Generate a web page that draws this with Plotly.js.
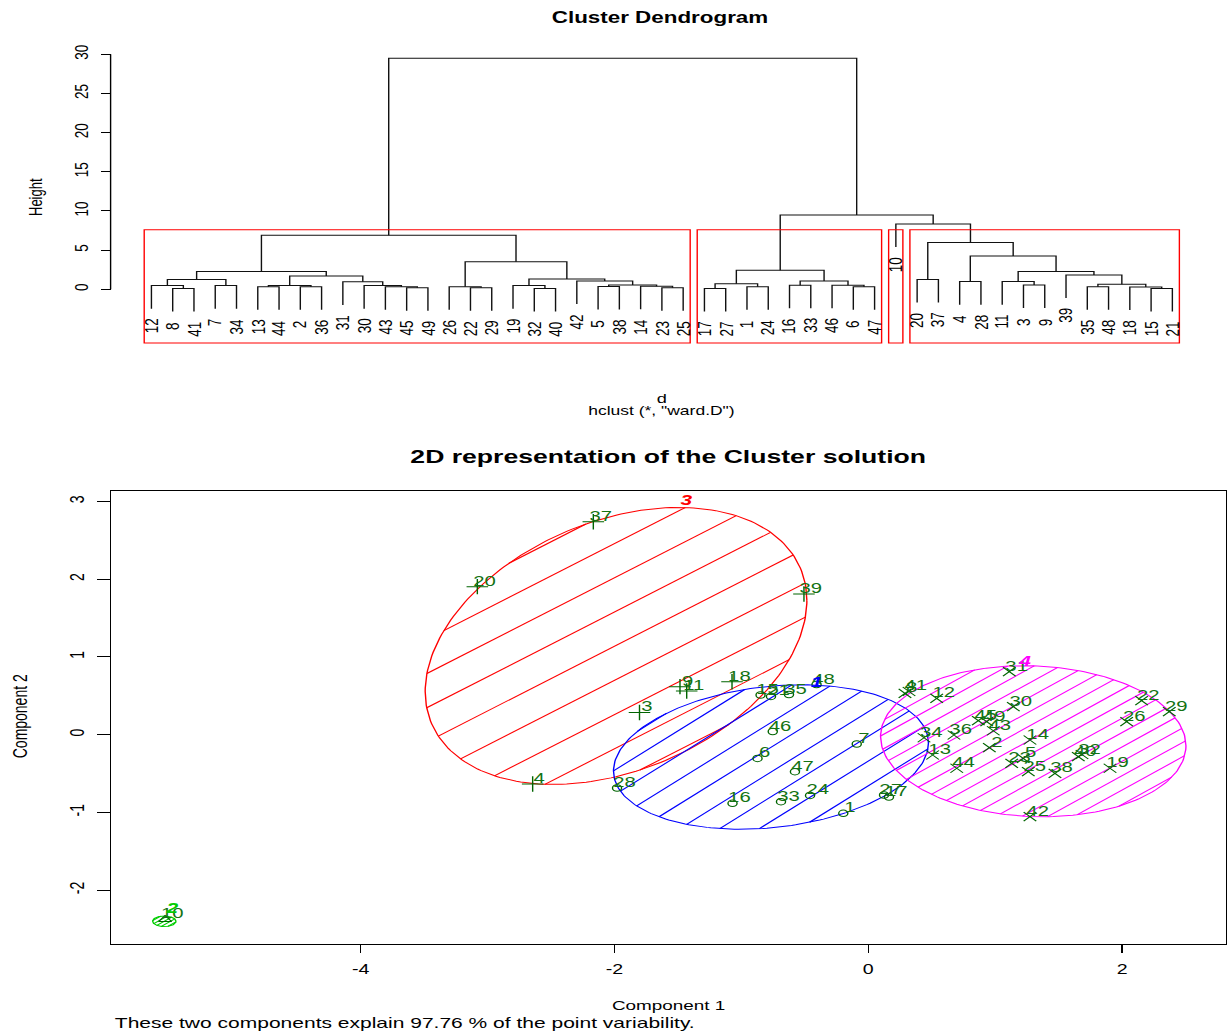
<!DOCTYPE html>
<html>
<head>
<meta charset="utf-8">
<script src="https://cdn.plot.ly/plotly-3.0.1.min.js"></script>
<style>
html,body{margin:0;padding:0;overflow:hidden;background:#ffffff;}
#chart{width:877px;height:1035px;transform:scaleX(1.40023);transform-origin:0 0;}
</style>
</head>
<body>
<div id="chart"></div>
<script>
// ================= DATA: hierarchical clustering (hclust, ward.D) =================
const leafOrder = [12,8,41,7,34,13,44,2,36,31,30,43,45,49,26,22,29,19,32,40,42,5,38,14,23,25,
                   17,27,1,24,16,33,46,6,47,10,20,37,4,28,11,3,9,39,35,48,18,15,21];
// merge table (R style): negative = observation, positive = earlier merge (1-based)
const mergeLeft  = [-8,-12,-7, 2,-13,-2, 5,-45,-43,-30,-31, 7, 4,-22,-26,-32,-19,-5,-23,-14,18,-42,17,15,13,
                    -17,-1,26,-16,-6,-46,29,28,-20,-4,-3,-11,-15,-18,-35,40,-39,37,35,34,-10,33,25];
const mergeRight = [-41, 1,-34, 3,-44,-36, 6,-49, 8, 9,10,11,12,-29,14,-40,16,-38,-25,19,20,21,22,23,24,
                    -27,-24,27,-33,-47,30,31,32,-37,-28,-9,36,-21,38,-48,39,41,42,43,44,45,46,47];
const mergeHeight = [0.09,0.47,0.47,1.24,0.34,0.34,0.47,0.21,0.34,0.47,0.95,1.70,2.26,0.21,0.34,0.10,0.47,0.35,0.20,0.40,0.55,1.05,1.32,3.53,6.89,
                     0.09,0.34,0.72,0.51,0.34,0.51,1.06,2.43,1.26,0.98,0.55,0.98,0.09,0.30,0.34,0.64,1.84,2.26,4.26,5.96,8.34,9.49,29.5];
const numClusters = 4;
const heightTicks = [0,5,10,15,20,25,30];

// ================= DATA: 2D cluster plot (clusplot) =================
const clusterIds = [3,1,4,2];
const clusterColors = ['#FF0000','#0000FF','#FF00FF','#00CD00'];
const pointSymbols = ['cross-thin-open','circle-open','x-thin-open','triangle-up-open'];
const pointSizes = [11,6.5,9,8];

const labels3 = [37,20,39,9,11,18,3,4];
const x3 = [-2.167,-3.081,-0.507,-1.484,-1.431,-1.074,-1.803,-2.645];
const y3 = [2.741,1.905,1.811,0.618,0.562,0.682,0.286,-0.634];

const labels1 = [28,15,21,35,48,46,6,47,16,33,24,7,1,27,17];
const x1 = [-1.980,-0.849,-0.767,-0.625,-0.408,-0.753,-0.873,-0.578,-1.070,-0.688,-0.459,-0.091,-0.197,0.124,0.163];
const y1 = [-0.686,0.511,0.492,0.517,0.646,0.041,-0.306,-0.476,-0.883,-0.862,-0.782,-0.120,-1.012,-0.776,-0.802];

const labels4 = [31,8,41,12,30,22,29,26,45,49,43,36,34,2,14,13,44,23,5,25,38,40,32,19,42];
const x4 = [1.111,0.289,0.321,0.539,1.143,2.154,2.372,2.036,0.867,0.933,0.985,0.675,0.439,0.954,1.274,0.507,0.697,1.130,1.221,1.261,1.471,1.655,1.684,1.905,1.274];
const y4 = [0.811,0.533,0.556,0.468,0.360,0.438,0.296,0.167,0.180,0.167,0.051,-0.004,-0.039,-0.167,-0.068,-0.261,-0.432,-0.368,-0.304,-0.476,-0.497,-0.283,-0.255,-0.432,-1.055];

const labels2 = [10];
const x2 = [-5.542];
const y2 = [-2.378];

// spanning ellipses (center + shape matrix), in cluster order [3,1,4,2]
const ellCx  = [-1.988,-0.767,1.300,-5.548];
const ellCy  = [1.142,-0.287,-0.084,-2.401];
const ellSxx = [2.262,1.540,1.448,0.0085];
const ellSxy = [0.882,0.223,-0.071,0];
const ellSyy = [3.176,0.863,0.944,0.00465];
// shading lines
const hatchSlope = [0.833,1.013,0.898,0.9];
const hatchGap   = [0.440,0.318,0.185,0.045];
const hatchRefX  = [-2.114,-0.879,1.432,-5.548];
const hatchRefY  = [1.044,-0.912,-1.038,-2.401];
// cluster number label positions
const clusLabX = [-1.429,-0.412,1.233,-5.487];
const clusLabY = [3.021,0.691,0.961,-2.230];

const xTicks2 = [-4,-2,0,2];
const yTicks2 = [-2,-1,0,1,2,3];
const explainedPct = 97.76;

// ================= BUILD =================
const FONT = 'Liberation Sans, Arial, sans-serif';
const traces = [];
const annotations = [];
const shapes = [];

// ---- dendrogram geometry from merge table ----
const pos = {};
leafOrder.forEach((id,i)=>{ pos[id] = i+1; });
const nLeaf = leafOrder.length;
const hMax = Math.max(...mergeHeight), hMin = Math.min(...mergeHeight);
const hang = 0.1*(hMax-hMin);
const nodeX=[], nodeLo=[], nodeHi=[];
const segX=[], segY=[];
function childInfo(c, parentH){
  if (c<0){
    const x = pos[-c], yb = parentH - hang;
    annotations.push({xref:'x',yref:'y',x:x,y:yb,text:String(-c),showarrow:false,textangle:-90,
      xanchor:'center',yanchor:'top',yshift:-8,font:{family:FONT,size:13.5,color:'#000'}});
    return {x:x,y:yb,lo:x,hi:x};
  }
  return {x:nodeX[c-1],y:mergeHeight[c-1],lo:nodeLo[c-1],hi:nodeHi[c-1]};
}
for (let i=0;i<mergeHeight.length;i++){
  const h = mergeHeight[i];
  const a = childInfo(mergeLeft[i],h), b = childInfo(mergeRight[i],h);
  segX.push(a.x,a.x,b.x,b.x,null);
  segY.push(a.y,h,h,b.y,null);
  nodeX[i]=(a.x+b.x)/2; nodeLo[i]=Math.min(a.lo,b.lo); nodeHi[i]=Math.max(a.hi,b.hi);
}
traces.push({type:'scatter',mode:'lines',x:segX,y:segY,xaxis:'x',yaxis:'y',
  line:{color:'#111',width:1},hoverinfo:'skip',showlegend:false});

// rect.hclust boxes
const sortedH = [...mergeHeight].sort((a,b)=>b-a);
const cutH = (sortedH[numClusters-2]+sortedH[numClusters-1])/2;
const ranges = [];
(function cut(c){
  if (c<0){ ranges.push([pos[-c],pos[-c]]); return; }
  const i=c-1;
  if (mergeHeight[i]>cutH){ cut(mergeLeft[i]); cut(mergeRight[i]); }
  else ranges.push([nodeLo[i],nodeHi[i]]);
})(mergeHeight.length);
ranges.sort((a,b)=>a[0]-b[0]);
const dendroBottom = -6.85;
ranges.forEach(r=>{
  shapes.push({type:'rect',xref:'x',yref:'y',x0:r[0]-0.34,x1:r[1]+0.33,y0:dendroBottom,y1:cutH,
    line:{color:'#FF0000',width:1},fillcolor:'rgba(0,0,0,0)'});
});
// y axis line (0..30 only, R style)
const xLo = 1-0.04*(nLeaf-1);
shapes.push({type:'line',xref:'x',yref:'y',x0:xLo,x1:xLo,y0:heightTicks[0],y1:heightTicks[heightTicks.length-1],
  line:{color:'#000',width:1}});

// ---- cluster plot ----
const ptLabels=[labels3,labels1,labels4,labels2], ptX=[x3,x1,x4,x2], ptY=[y3,y1,y4,y2];

function ellipsePoly(k){
  const a = Math.sqrt(ellSxx[k]); const b = ellSxy[k]/a; const c = Math.sqrt(ellSyy[k]-b*b);
  const xs=[], ys=[];
  for (let j=0;j<=240;j++){
    const t = 2*Math.PI*j/240;
    xs.push(ellCx[k]+a*Math.cos(t)); ys.push(ellCy[k]+b*Math.cos(t)+c*Math.sin(t));
  }
  return [xs,ys];
}
function hatch(k){
  const Mxx=ellSxx[k], Mxy=ellSxy[k], Myy=ellSyy[k], det=Mxx*Myy-Mxy*Mxy;
  const m=hatchSlope[k], b0=hatchRefY[k]-m*hatchRefX[k];
  const xs=[], ys=[];
  for (let j=-400;j<=400;j++){
    const bb = b0 + j*hatchGap[k];
    const e = m*ellCx[k] + bb - ellCy[k];
    const A = Myy - 2*Mxy*m + Mxx*m*m;
    const B = 2*e*(Mxx*m - Mxy);
    const C = Mxx*e*e - det;
    const D = B*B-4*A*C;
    if (D<=0) continue;
    const u1=(-B-Math.sqrt(D))/(2*A), u2=(-B+Math.sqrt(D))/(2*A);
    const xa=ellCx[k]+u1, xb=ellCx[k]+u2;
    xs.push(xa,xb,null); ys.push(m*xa+bb, m*xb+bb, null);
  }
  return [xs,ys];
}
for (let k=0;k<clusterIds.length;k++){
  const h = hatch(k);
  traces.push({type:'scatter',mode:'lines',x:h[0],y:h[1],xaxis:'x2',yaxis:'y2',
    line:{color:clusterColors[k],width:1},hoverinfo:'skip',showlegend:false});
  const p = ellipsePoly(k);
  traces.push({type:'scatter',mode:'lines',x:p[0],y:p[1],xaxis:'x2',yaxis:'y2',
    line:{color:clusterColors[k],width:1},hoverinfo:'skip',showlegend:false});
}
for (let k=0;k<clusterIds.length;k++){
  traces.push({type:'scatter',mode:'markers',x:ptX[k],y:ptY[k],xaxis:'x2',yaxis:'y2',
    marker:{symbol:pointSymbols[k],size:pointSizes[k],color:'#006400',line:{color:'#006400',width:1}},
    hoverinfo:'skip',showlegend:false,cliponaxis:false});
}
for (let k=0;k<clusterIds.length;k++){
  ptLabels[k].forEach((lab,i)=>{
    annotations.push({xref:'x2',yref:'y2',x:ptX[k][i],y:ptY[k][i],text:String(lab),showarrow:false,
      xanchor:'center',yanchor:'middle',xshift:5,yshift:6,font:{family:FONT,size:14.5,color:'#137313'}});
  });
  annotations.push({xref:'x2',yref:'y2',x:clusLabX[k],y:clusLabY[k],text:String(clusterIds[k]),showarrow:false,
    xanchor:'center',yanchor:'middle',font:{family:FONT,size:15,color:clusterColors[k],weight:'bold',style:'italic'}});
}

// ---- texts ----
function paperText(txt,xpx,ypx,size,opts){
  return Object.assign({xref:'paper',yref:'paper',x:xpx/1228,y:1-ypx/1035,text:txt,showarrow:false,
    xanchor:'center',yanchor:'middle',font:{family:FONT,size:size,color:'#000'}},opts||{});
}
annotations.push(paperText('Cluster Dendrogram',660,17,16,{font:{family:FONT,size:16,color:'#000',weight:'bold'}}));
annotations.push(paperText('Height',35,197,13,{textangle:-90}));
annotations.push(paperText('d',661,398,13));
annotations.push(paperText('hclust (*, "ward.D")',661,411,12.5));
annotations.push(paperText('2D representation of the Cluster solution',668,456,19,{font:{family:FONT,size:19,color:'#000',weight:'bold'}}));
annotations.push(paperText('Component 1',668,1005,13.5));
annotations.push(paperText('Component 2',20,716,14,{textangle:-90}));
annotations.push(paperText('These two components explain '+explainedPct+' % of the point variability.',112,1022,15,{xanchor:'left'}));

const layout = {
  width:877, height:1035,
  margin:{l:0,r:0,t:0,b:0},
  paper_bgcolor:'#ffffff', plot_bgcolor:'rgba(0,0,0,0)',
  font:{family:FONT,color:'#000'},
  showlegend:false, hovermode:false,
  xaxis:{domain:[100/1228,1213.2/1228],range:[xLo-10.6/21.269,nLeaf+0.04*(nLeaf-1)],visible:false,fixedrange:true},
  yaxis:{domain:[1-346/1035,1-40/1035],range:[-7.24,31.83],anchor:'free',position:110.6/1228,
    tickvals:heightTicks,ticktext:heightTicks.map(String),ticks:'outside',ticklen:7,tickwidth:1,tickcolor:'#000',
    ticklabelstandoff:4,
    tickangle:-90,tickfont:{family:FONT,size:13.5,color:'#000'},showline:false,showgrid:false,zeroline:false,fixedrange:true},
  xaxis2:{domain:[111/1228,1226/1228],range:[-5.968,2.819],anchor:'y2',
    tickvals:xTicks2,ticktext:xTicks2.map(String),ticks:'outside',ticklen:8,tickwidth:1,tickcolor:'#000',
    ticklabelstandoff:5,
    tickfont:{family:FONT,size:14,color:'#000'},showline:true,mirror:true,linecolor:'#000',linewidth:1,
    showgrid:false,zeroline:false,fixedrange:true},
  yaxis2:{domain:[1-943.5/1035,1-491/1035],range:[-2.687,3.136],anchor:'x2',
    tickvals:yTicks2,ticktext:yTicks2.map(String),ticks:'outside',ticklen:9,tickwidth:1,tickcolor:'#000',
    ticklabelstandoff:4,
    tickangle:-90,tickfont:{family:FONT,size:14,color:'#000'},showline:true,mirror:true,linecolor:'#000',linewidth:1,
    showgrid:false,zeroline:false,fixedrange:true},
  shapes:shapes,
  annotations:annotations
};
Plotly.newPlot('chart',traces,layout,{displayModeBar:false,staticPlot:true,responsive:false});
</script>
</body>
</html>
